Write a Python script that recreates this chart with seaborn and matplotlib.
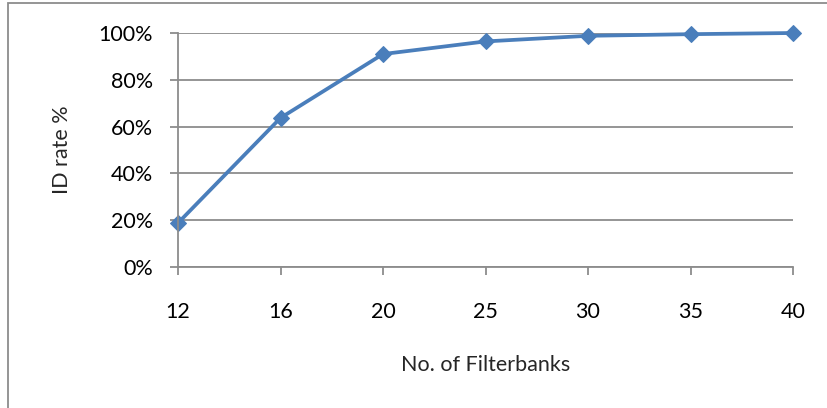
import matplotlib
matplotlib.use("Agg")
import matplotlib.pyplot as plt
from matplotlib.patches import Rectangle
from matplotlib.ticker import PercentFormatter
import seaborn as sns
import pandas as pd

# data
filterbanks = ["12", "16", "20", "25", "30", "35", "40"]
id_rate = [18.8, 63.7, 91.0, 96.4, 98.8, 99.5, 100.0]

sns.set_theme(style="white")
plt.rcParams['font.family'] = ['Lato', 'DejaVu Sans']

df = pd.DataFrame({"filterbanks": filterbanks, "id_rate": id_rate})

fig = plt.figure(figsize=(8.27, 4.08), dpi=100)
ax = fig.add_axes([178 / 827, 1 - 267 / 408, (793 - 178) / 827, (267 - 33) / 408])

sns.lineplot(data=df, x="filterbanks", y="id_rate", ax=ax, color="#4A7EBB",
             linewidth=2.7, marker="D", markersize=8.5, markeredgecolor="#4A7EBB",
             sort=False)
for line in ax.lines:
    line.set_clip_on(False)

ax.set_ylim(0, 100)
ax.set_xlim(0, len(filterbanks) - 1)
ax.set_yticks([0, 20, 40, 60, 80, 100])
ax.yaxis.set_major_formatter(PercentFormatter(decimals=0))
ax.grid(axis="y", color="#8C8C8C", linewidth=1.3)
ax.set_axisbelow(True)

for side in ["top", "right"]:
    ax.spines[side].set_visible(False)
for side in ["left", "bottom"]:
    ax.spines[side].set_color("#8C8C8C")
    ax.spines[side].set_linewidth(1.3)

ax.tick_params(axis="both", which="major", direction="out", length=6, width=1.3,
               color="#8C8C8C", labelsize=15.5, labelcolor="black")
ax.tick_params(axis="y", pad=12, left=True)
ax.tick_params(axis="x", pad=19, bottom=True)

ax.set_xlabel("No. of Filterbanks", fontsize=15.5, labelpad=24)
ax.set_ylabel("ID rate %", fontsize=15.5, labelpad=19)

# outer chart border
fig.patches.append(Rectangle((8 / 827, -0.1), 1.2, 1 - 3.5 / 408 + 0.1,
                             transform=fig.transFigure, fill=False,
                             edgecolor="#8C8C8C", linewidth=1.3))

fig.savefig("out.png", dpi=100)
